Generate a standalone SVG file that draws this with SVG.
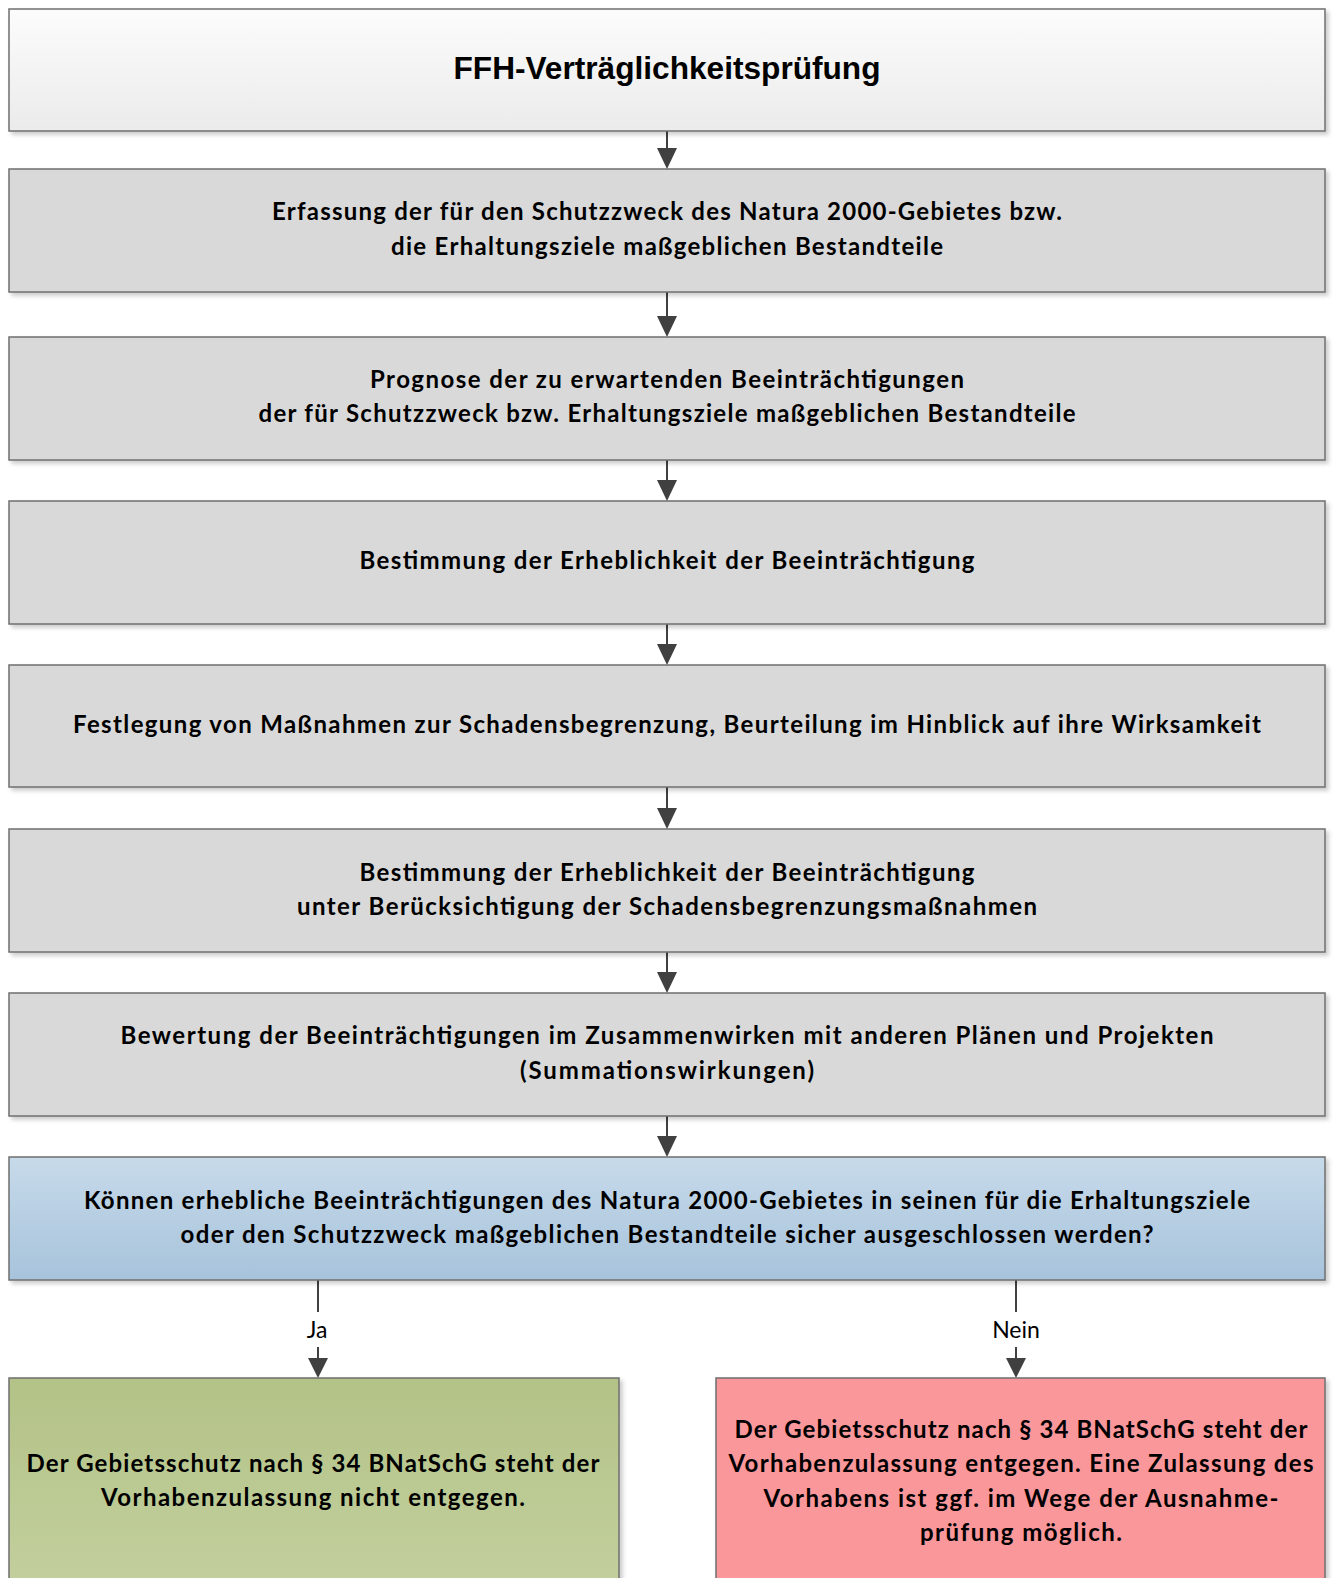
<svg xmlns="http://www.w3.org/2000/svg" width="1333" height="1578" viewBox="0 0 1333 1578">
<defs>
<linearGradient id="gTop" x1="0" y1="0" x2="0" y2="1"><stop offset="0" stop-color="#fcfcfc"/><stop offset="1" stop-color="#ebebeb"/></linearGradient>
<linearGradient id="gBlue" x1="0" y1="0" x2="0" y2="1"><stop offset="0" stop-color="#c7daea"/><stop offset="1" stop-color="#a7c3db"/></linearGradient>
<linearGradient id="gGreen" x1="0" y1="0" x2="0" y2="1"><stop offset="0" stop-color="#b3c286"/><stop offset="1" stop-color="#c3d09f"/></linearGradient>
<filter id="sh" x="-5%" y="-10%" width="110%" height="130%"><feDropShadow dx="3" dy="3" stdDeviation="2" flood-color="#000" flood-opacity="0.2"/></filter>
<style>
.box{stroke:#6f6f6f;stroke-width:1.5;filter:url(#sh)}
.gray{fill:#d9d9d9}
.t{font-family:Lato,"Open Sans",sans-serif;font-weight:bold;font-size:24px;fill:#000;text-anchor:middle}
.lbl{font-family:Lato,"Open Sans",sans-serif;font-size:23px;fill:#000;text-anchor:middle}
.title{font-family:"Liberation Sans",Arial,sans-serif;font-weight:bold;font-size:31px;fill:#000;text-anchor:middle}
.c{stroke:#404040;stroke-width:2;fill:none}
.ah{fill:#404040}
</style>
</defs>
<rect width="1333" height="1578" fill="#fff"/>
<g id="connectors">
<line class="c" x1="667" y1="131" x2="667" y2="150"/><path class="ah" d="M657,148 L677,148 L667,169 Z"/>
<line class="c" x1="667" y1="292" x2="667" y2="318"/><path class="ah" d="M657,316 L677,316 L667,337 Z"/>
<line class="c" x1="667" y1="460" x2="667" y2="482"/><path class="ah" d="M657,480 L677,480 L667,501 Z"/>
<line class="c" x1="667" y1="624" x2="667" y2="646"/><path class="ah" d="M657,644 L677,644 L667,665 Z"/>
<line class="c" x1="667" y1="787" x2="667" y2="810"/><path class="ah" d="M657,808 L677,808 L667,829 Z"/>
<line class="c" x1="667" y1="952" x2="667" y2="974"/><path class="ah" d="M657,972 L677,972 L667,993 Z"/>
<line class="c" x1="667" y1="1116" x2="667" y2="1138"/><path class="ah" d="M657,1136 L677,1136 L667,1157 Z"/>
<line class="c" x1="318" y1="1280" x2="318" y2="1312"/><line class="c" x1="318" y1="1347" x2="318" y2="1360"/><path class="ah" d="M308,1358 L328,1358 L318,1378 Z"/>
<text class="lbl" x="317" y="1338">Ja</text>
<line class="c" x1="1016" y1="1280" x2="1016" y2="1312"/><line class="c" x1="1016" y1="1347" x2="1016" y2="1360"/><path class="ah" d="M1006,1358 L1026,1358 L1016,1378 Z"/>
<text class="lbl" x="1016" y="1338">Nein</text>
</g>
<g id="n1"><rect class="box" x="9" y="9" width="1316" height="122" fill="url(#gTop)"/><text class="title" x="667" y="79" textLength="427" lengthAdjust="spacingAndGlyphs">FFH-Verträglichkeitsprüfung</text></g>
<g id="n2"><rect class="box gray" x="9" y="169" width="1316" height="123"/>
<text class="t" x="667" y="220" textLength="790" lengthAdjust="spacing">Erfassung der für den Schutzzweck des Natura 2000-Gebietes bzw.</text>
<text class="t" x="667" y="255" textLength="552" lengthAdjust="spacing">die Erhaltungsziele maßgeblichen Bestandteile</text></g>
<g id="n3"><rect class="box gray" x="9" y="337" width="1316" height="123"/>
<text class="t" x="667" y="388" textLength="594" lengthAdjust="spacing">Prognose der zu erwartenden Beeinträchtigungen</text>
<text class="t" x="667" y="422" textLength="817" lengthAdjust="spacing">der für Schutzzweck bzw. Erhaltungsziele maßgeblichen Bestandteile</text></g>
<g id="n4"><rect class="box gray" x="9" y="501" width="1316" height="123"/>
<text class="t" x="667" y="569" textLength="615" lengthAdjust="spacing">Bestimmung der Erheblichkeit der Beeinträchtigung</text></g>
<g id="n5"><rect class="box gray" x="9" y="665" width="1316" height="122"/>
<text class="t" x="667" y="733" textLength="1188" lengthAdjust="spacing">Festlegung von Maßnahmen zur Schadensbegrenzung, Beurteilung im Hinblick auf ihre Wirksamkeit</text></g>
<g id="n6"><rect class="box gray" x="9" y="829" width="1316" height="123"/>
<text class="t" x="667" y="881" textLength="615" lengthAdjust="spacing">Bestimmung der Erheblichkeit der Beeinträchtigung</text>
<text class="t" x="667" y="915" textLength="740" lengthAdjust="spacing">unter Berücksichtigung der Schadensbegrenzungsmaßnahmen</text></g>
<g id="n7"><rect class="box gray" x="9" y="993" width="1316" height="123"/>
<text class="t" x="667" y="1044" textLength="1093" lengthAdjust="spacing">Bewertung der Beeinträchtigungen im Zusammenwirken mit anderen Plänen und Projekten</text>
<text class="t" x="667" y="1079" textLength="294" lengthAdjust="spacing">(Summationswirkungen)</text></g>
<g id="n8"><rect class="box" x="9" y="1157" width="1316" height="123" fill="url(#gBlue)"/>
<text class="t" x="667" y="1209" textLength="1166" lengthAdjust="spacing">Können erhebliche Beeinträchtigungen des Natura 2000-Gebietes in seinen für die Erhaltungsziele</text>
<text class="t" x="667" y="1243" textLength="973" lengthAdjust="spacing">oder den Schutzzweck maßgeblichen Bestandteile sicher ausgeschlossen werden?</text></g>
<g id="n9"><rect class="box" x="9" y="1378" width="610" height="215" fill="url(#gGreen)"/>
<text class="t" x="313" y="1472" textLength="573" lengthAdjust="spacing">Der Gebietsschutz nach § 34 BNatSchG steht der</text>
<text class="t" x="313" y="1506" textLength="424" lengthAdjust="spacing">Vorhabenzulassung nicht entgegen.</text></g>
<g id="n10"><rect class="box" x="716" y="1378" width="609" height="215" fill="#f9979a"/>
<text class="t" x="1021" y="1438" textLength="573" lengthAdjust="spacing">Der Gebietsschutz nach § 34 BNatSchG steht der</text>
<text class="t" x="1021" y="1472" textLength="585" lengthAdjust="spacing">Vorhabenzulassung entgegen. Eine Zulassung des</text>
<text class="t" x="1021" y="1507" textLength="515" lengthAdjust="spacing">Vorhabens ist ggf. im Wege der Ausnahme-</text>
<text class="t" x="1021" y="1541" textLength="202" lengthAdjust="spacing">prüfung möglich.</text></g>
</svg>
